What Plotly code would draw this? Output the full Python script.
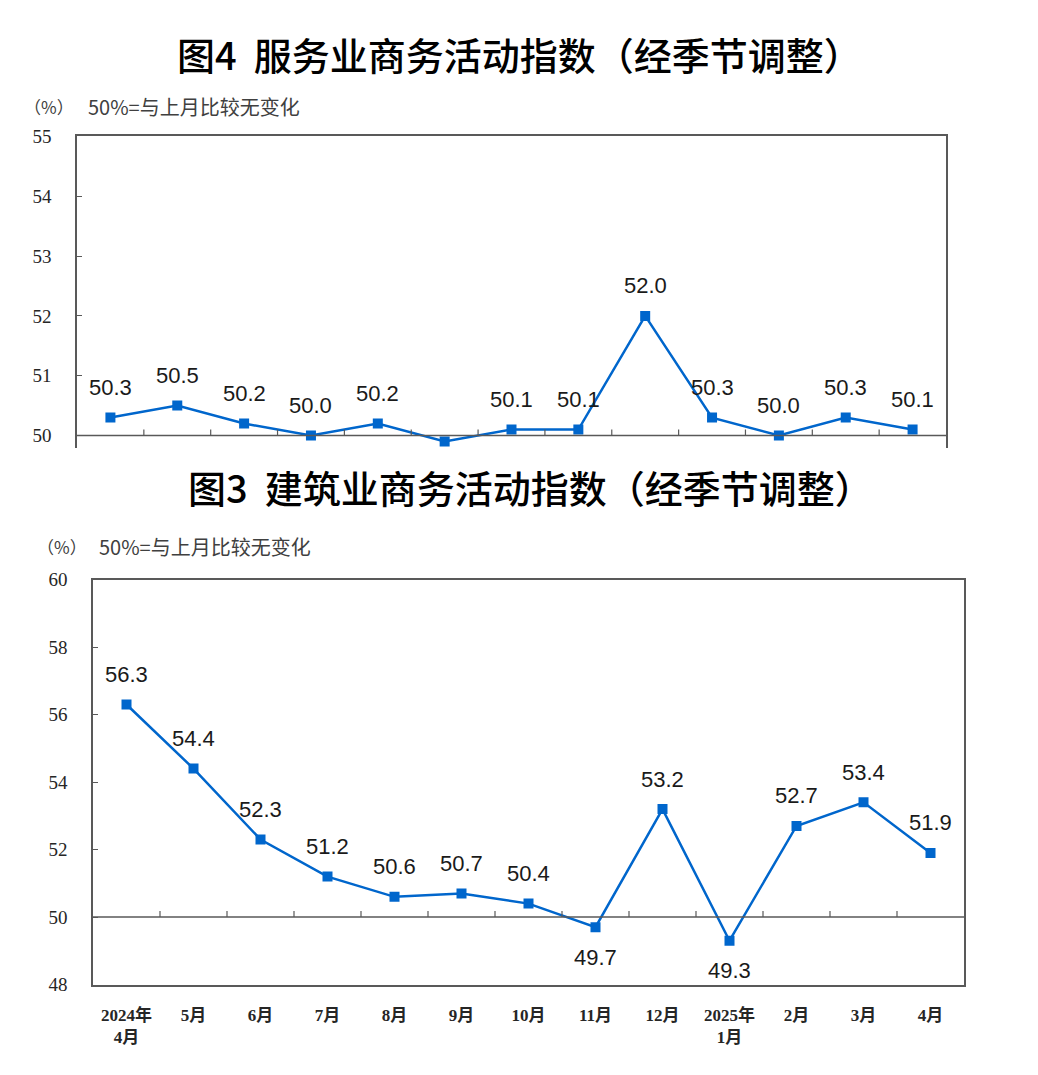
import plotly.graph_objects as go

# ---------------- data ----------------
months = ["2024年<br>4月", "5月", "6月", "7月", "8月", "9月", "10月", "11月",
          "12月", "2025年<br>1月", "2月", "3月", "4月"]
services = [50.3, 50.5, 50.2, 50.0, 50.2, 49.9, 50.1, 50.1, 52.0, 50.3, 50.0, 50.3, 50.1]
services_show_label = [1, 1, 1, 1, 1, 0, 1, 1, 1, 1, 1, 1, 1]
construction = [56.3, 54.4, 52.3, 51.2, 50.6, 50.7, 50.4, 49.7, 53.2, 49.3, 52.7, 53.4, 51.9]
construction_label_side = [1, 1, 1, 1, 1, 1, 1, -1, 1, -1, 1, 1, 1]
title_services = "图4  服务业商务活动指数（经季节调整）"
title_construction = "图3  建筑业商务活动指数（经季节调整）"
unit_text = "（%）"
note_text = "50%=与上月比较无变化"

# ---------------- style ----------------
W, H = 1038, 1075
BLUE = "#0066CC"
AXC = "#595959"
CJK = "Noto Sans CJK SC"
SANS = "Liberation Sans, Arial, " + CJK
SERIF = "Liberation Serif, Times New Roman, " + CJK


def px_x(p):
    return p / W


def px_y(p):
    return 1 - p / H


top_dom_x = [px_x(77), px_x(946)]
top_dom_y = [px_y(447), px_y(129)]
bot_dom_x = [px_x(93), px_x(964)]
bot_dom_y = [px_y(994), px_y(581)]

fig = go.Figure()

fig.add_trace(go.Scatter(
    x=months, y=services, mode="lines+markers", xaxis="x", yaxis="y",
    line=dict(color=BLUE, width=2.5),
    marker=dict(symbol="square", size=10, color=BLUE),
    hoverinfo="x+y", showlegend=False))

fig.add_trace(go.Scatter(
    x=months, y=construction, mode="lines+markers", xaxis="x2", yaxis="y2",
    line=dict(color=BLUE, width=2.5),
    marker=dict(symbol="square", size=10, color=BLUE),
    hoverinfo="x+y", showlegend=False))

annotations = []
for m, v, s in zip(months, services, services_show_label):
    if s:
        annotations.append(dict(x=m, y=v, xref="x", yref="y", text=f"{v:.1f}",
                                showarrow=False, yshift=30,
                                font=dict(family=SANS, size=22, color="#1a1a1a")))
for m, v, s in zip(months, construction, construction_label_side):
    annotations.append(dict(x=m, y=v, xref="x2", yref="y2", text=f"{v:.1f}",
                            showarrow=False, yshift=30 * s,
                            font=dict(family=SANS, size=22, color="#1a1a1a")))

# titles
annotations.append(dict(x=px_x(519), y=px_y(44), xref="paper", yref="paper",
                        text=title_services, showarrow=False, xanchor="center", yanchor="middle",
                        font=dict(family=CJK, size=38, color="#000000", weight=500)))
annotations.append(dict(x=px_x(530), y=px_y(486), xref="paper", yref="paper",
                        text=title_construction, showarrow=False, xanchor="center", yanchor="middle",
                        font=dict(family=CJK, size=38, color="#000000", weight=500)))
# unit notes
for ux, nx, yy in [(22, 86, 98), (35, 97, 547)]:
    annotations.append(dict(x=px_x(ux), y=px_y(yy), xref="paper", yref="paper",
                            text=unit_text, showarrow=False, xanchor="left", yanchor="middle",
                            font=dict(family=CJK, size=17, color="#404040")))
    annotations.append(dict(x=px_x(nx), y=px_y(yy), xref="paper", yref="paper",
                            text=note_text, showarrow=False, xanchor="left", yanchor="middle",
                            font=dict(family=CJK, size=20, color="#404040")))

shapes = []
# 50 reference line with category-boundary ticks on both charts
for xr, yr in [("x", "y"), ("x2", "y2")]:
    shapes.append(dict(type="line", xref=f"{xr} domain", yref=yr, x0=0, x1=1, y0=50, y1=50,
                       line=dict(color=AXC, width=1.5)))
    for i in range(len(months) - 1):
        shapes.append(dict(type="line", xref=xr, yref=yr, ysizemode="pixel", yanchor=50,
                           x0=i + 0.5, x1=i + 0.5, y0=0, y1=6,
                           line=dict(color=AXC, width=1.2)))

fig.update_layout(
    width=W, height=H,
    margin=dict(l=0, r=0, t=0, b=0),
    paper_bgcolor="white", plot_bgcolor="white",
    annotations=annotations, shapes=shapes,
    xaxis=dict(domain=top_dom_x, anchor="y", side="top", type="category",
               showline=True, linecolor=AXC, linewidth=1.5,
               showticklabels=False, ticks="", showgrid=False, zeroline=False,
               range=[-0.5, len(months) - 0.5]),
    yaxis=dict(domain=top_dom_y, anchor="x", range=[49.787, 55], dtick=1, tick0=50,
               showline=True, mirror=True, linecolor=AXC, linewidth=1.5,
               ticks="inside", ticklen=5, tickcolor=AXC, showgrid=False, zeroline=False,
               ticklabelstandoff=20,
               tickfont=dict(family=SERIF, size=19, color="#262626")),
    xaxis2=dict(domain=bot_dom_x, anchor="y2", type="category",
                showline=True, mirror=True, linecolor=AXC, linewidth=1.5,
                ticks="", showgrid=False, zeroline=False, ticklabelstandoff=14,
                range=[-0.5, len(months) - 0.5],
                tickfont=dict(family=SERIF, size=17, color="#262626", weight="bold")),
    yaxis2=dict(domain=bot_dom_y, anchor="x2", range=[48, 60], dtick=2, tick0=48,
                showline=True, mirror=True, linecolor=AXC, linewidth=1.5,
                ticks="inside", ticklen=5, tickcolor=AXC, showgrid=False, zeroline=False,
                ticklabelstandoff=20,
                tickfont=dict(family=SERIF, size=19, color="#262626")),
)

fig.write_html("out.html", config={"displayModeBar": False},
               post_script="document.body.style.margin='0';")
